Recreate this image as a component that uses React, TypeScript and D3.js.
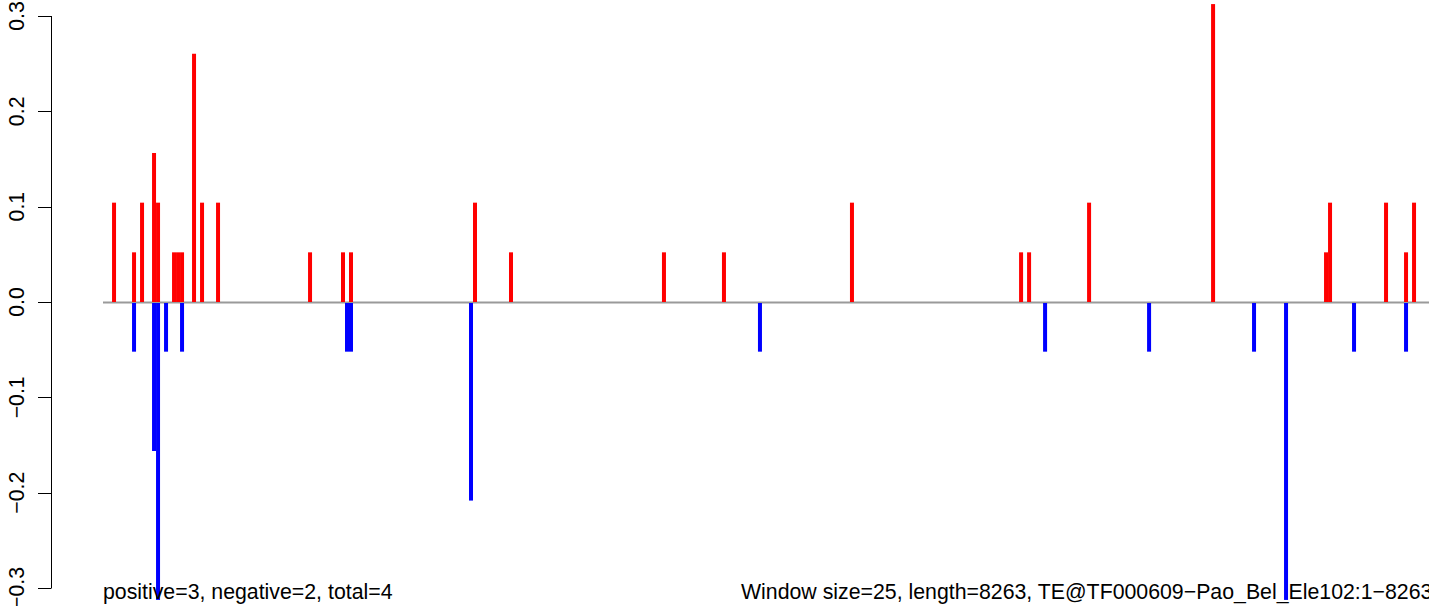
import React from "react";
import * as d3 from "d3";

const W = 1429;
const H = 606;

// window positions (bp) and scores
const posPositions = [69, 194, 244, 319, 344, 444, 469, 494, 569, 619, 719, 1294, 1500, 1550, 2325, 2550, 3506, 3881, 4681, 5738, 5788, 6163, 6938, 7644, 7669, 8019, 8144, 8194];
const posValues = [0.1042, 0.0521, 0.1042, 0.1563, 0.1042, 0.0521, 0.0521, 0.0521, 0.2604, 0.1042, 0.1042, 0.0521, 0.0521, 0.0521, 0.1042, 0.0521, 0.0521, 0.0521, 0.1042, 0.0521, 0.0521, 0.1042, 0.3125, 0.0521, 0.1042, 0.1042, 0.0521, 0.1042];

const negPositions = [194, 319, 344, 394, 494, 1525, 1550, 2300, 4106, 5888, 6538, 7194, 7394, 7819, 8144];
const negValues = [-0.0521, -0.1563, -0.3125, -0.0521, -0.0521, -0.0521, -0.0521, -0.2083, -0.0521, -0.0521, -0.0521, -0.0521, -0.3125, -0.0521, -0.0521];

const yTicks = [-0.3, -0.2, -0.1, 0.0, 0.1, 0.2, 0.3];
const seqLength = 8263;
const leftLabel = "positive=3, negative=2, total=4";
const rightLabel = "Window size=25, length=8263, TE@TF000609\u2212Pao_Bel_Ele102:1\u22128263";

const FONT = "'Liberation Sans', Arial, Helvetica, sans-serif";

export default function App() {
  const x = d3.scaleLinear().domain([0, seqLength]).range([103, 103 + seqLength * 0.16]);
  const y = d3.scaleLinear().domain([-0.3, 0.3]).range([588, 16]);
  const fmt = d3.format(".1f");
  const barW = 4;
  const y0 = y(0);

  return (
    <svg
      width={W}
      height={H}
      style={{ position: "absolute", left: 0, top: 0, display: "block", background: "#fff" }}
      fontFamily={FONT}
    >
      <rect x={0} y={0} width={W} height={H} fill="#fff" />
      {/* zero line */}
      <line x1={x(0)} x2={W} y1={y0 + 0.5} y2={y0 + 0.5} stroke="#9a9a9a" strokeWidth={2} />
      {/* positive bars */}
      {posPositions.map((p, i) => (
        <rect key={"p" + i} x={x(p) - barW / 2} y={y(posValues[i])} width={barW} height={y0 - y(posValues[i])} fill="#ff0000" />
      ))}
      {/* negative bars */}
      {negPositions.map((p, i) => (
        <rect key={"n" + i} x={x(p) - barW / 2} y={y0 + 1} width={barW} height={y(negValues[i]) - y0 - 1} fill="#0000ff" />
      ))}
      {/* y axis */}
      <line x1={51.5} x2={51.5} y1={y(-0.3)} y2={y(0.3)} stroke="#000" strokeWidth={1} />
      {yTicks.map((t) => (
        <g key={t}>
          <line x1={38} x2={51.5} y1={Math.round(y(t)) + 0.5} y2={Math.round(y(t)) + 0.5} stroke="#000" strokeWidth={1} />
          <text
            transform={`translate(24,${y(t)}) rotate(-90)`}
            textAnchor="middle"
            fontSize={21.3}
            fill="#000"
          >
            {fmt(t)}
          </text>
        </g>
      ))}
      <text x={103} y={599} fontSize={21.3} fill="#000">{leftLabel}</text>
      <text x={741} y={599} fontSize={21.3} fill="#000">{rightLabel}</text>
    </svg>
  );
}
